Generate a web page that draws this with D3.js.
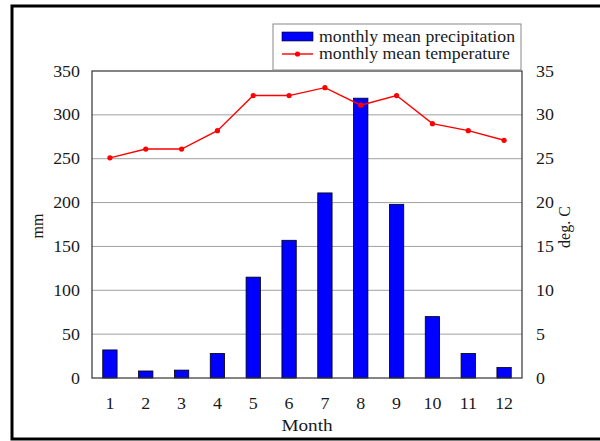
<!DOCTYPE html>
<html><head><meta charset="utf-8">
<script src="https://cdn.jsdelivr.net/npm/d3@7"></script>
<style>body{margin:0;background:#fff}svg{display:block}</style>
</head><body>
<svg id="chart" width="600" height="441"></svg>
<script>
const months = ["1","2","3","4","5","6","7","8","9","10","11","12"];
const precipitation = [32, 8, 9, 28, 115, 157, 211, 319, 198, 70, 28, 12];
const temperature = [25.1, 26.1, 26.1, 28.2, 32.2, 32.2, 33.1, 31.1, 32.2, 29.0, 28.2, 27.1];
const leftTicks = [0, 50, 100, 150, 200, 250, 300, 350];
const rightTicks = [0, 5, 10, 15, 20, 25, 30, 35];

const svg = d3.select("#chart");
const font = "'Liberation Serif', 'Times New Roman', serif";
const L = 92, R = 522, T = 71, B = 378;

function stretch(sel, f) {
  sel.each(function () {
    const w = this.getComputedTextLength();
    d3.select(this).attr("textLength", w * f).attr("lengthAdjust", "spacingAndGlyphs");
  });
}

// outer frame
svg.append("rect").attr("x", 12).attr("y", 6).attr("width", 600).attr("height", 433)
  .attr("fill", "none").attr("stroke", "#000").attr("stroke-width", 3);

const x = d3.scaleBand().domain(months).range([L, R]).paddingInner(0.6).paddingOuter(0.3);
const yL = d3.scaleLinear().domain([0, 350]).range([B, T]);
const yR = d3.scaleLinear().domain([0, 35]).range([B, T]);

// gridlines
svg.append("g").selectAll("line").data(leftTicks.filter(d => d > 0 && d < 350)).join("line")
  .attr("x1", L).attr("x2", R).attr("y1", d => yL(d)).attr("y2", d => yL(d))
  .attr("stroke", "#a0a0a0").attr("stroke-width", 1);

// bars
svg.append("g").selectAll("rect").data(precipitation).join("rect")
  .attr("x", (d, i) => x(months[i]))
  .attr("width", x.bandwidth())
  .attr("y", d => yL(d))
  .attr("height", d => B - yL(d))
  .attr("fill", "#0000ff").attr("stroke", "#000").attr("stroke-width", 0.8);

// plot border
svg.append("rect").attr("x", L).attr("y", T).attr("width", R - L).attr("height", B - T)
  .attr("fill", "none").attr("stroke", "#333").attr("stroke-width", 1.2);

// temperature line
const cx = i => x(months[i]) + x.bandwidth() / 2;
const line = d3.line().x((d, i) => cx(i)).y(d => yR(d));
svg.append("path").datum(temperature).attr("d", line)
  .attr("fill", "none").attr("stroke", "#ff0000").attr("stroke-width", 1.4);
svg.append("g").selectAll("circle").data(temperature).join("circle")
  .attr("cx", (d, i) => cx(i)).attr("cy", d => yR(d)).attr("r", 2.6).attr("fill", "#ff0000");

// axes
const axL = d3.axisLeft(yL).tickValues(leftTicks).tickSize(0).tickPadding(12);
const gL = svg.append("g").attr("transform", `translate(${L},0)`).call(axL);
const axR = d3.axisRight(yR).tickValues(rightTicks).tickSize(0).tickPadding(14);
const gR = svg.append("g").attr("transform", `translate(${R},0)`).call(axR);
const axB = d3.axisBottom(x).tickSize(0).tickPadding(20);
const gB = svg.append("g").attr("transform", `translate(0,${B})`).call(axB);
[gL, gR, gB].forEach(g => {
  g.select(".domain").remove();
  g.selectAll("text").attr("font-family", font).attr("font-size", 16).attr("fill", "#1a1a1a");
  stretch(g.selectAll("text"), 1.12);
});

// axis titles
svg.append("text").attr("transform", "translate(43,226) rotate(-90)")
  .attr("text-anchor", "middle").attr("font-family", font).attr("font-size", 16).attr("fill", "#1a1a1a").text("mm");
svg.append("text").attr("transform", "translate(570,227) rotate(-90)")
  .attr("text-anchor", "middle").attr("font-family", font).attr("font-size", 16).attr("fill", "#1a1a1a").text("deg. C");
const mt = svg.append("text").attr("x", (L + R) / 2).attr("y", 431)
  .attr("text-anchor", "middle").attr("font-family", font).attr("font-size", 16).attr("fill", "#1a1a1a").text("Month");
stretch(mt, 1.2);

// legend
const lg = svg.append("g");
lg.append("rect").attr("x", 273).attr("y", 24).attr("width", 248).attr("height", 46)
  .attr("fill", "#fff").attr("stroke", "#888").attr("stroke-width", 1);
lg.append("rect").attr("x", 282).attr("y", 32).attr("width", 31).attr("height", 9)
  .attr("fill", "#0000ff").attr("stroke", "#000").attr("stroke-width", 0.6);
const t1 = lg.append("text").attr("x", 319).attr("y", 42).attr("font-family", font).attr("font-size", 16).attr("fill", "#1a1a1a")
  .text("monthly mean precipitation");
lg.append("line").attr("x1", 282).attr("x2", 313).attr("y1", 54).attr("y2", 54)
  .attr("stroke", "#ff0000").attr("stroke-width", 1.4);
lg.append("circle").attr("cx", 297.5).attr("cy", 54).attr("r", 2.6).attr("fill", "#ff0000");
const t2 = lg.append("text").attr("x", 319).attr("y", 59).attr("font-family", font).attr("font-size", 16).attr("fill", "#1a1a1a")
  .text("monthly mean temperature");
t1.attr("textLength", 196).attr("lengthAdjust", "spacingAndGlyphs");
stretch(t2, 196 / t1.node().getComputedTextLength() * 0 + 1.107);
</script>
</body></html>
